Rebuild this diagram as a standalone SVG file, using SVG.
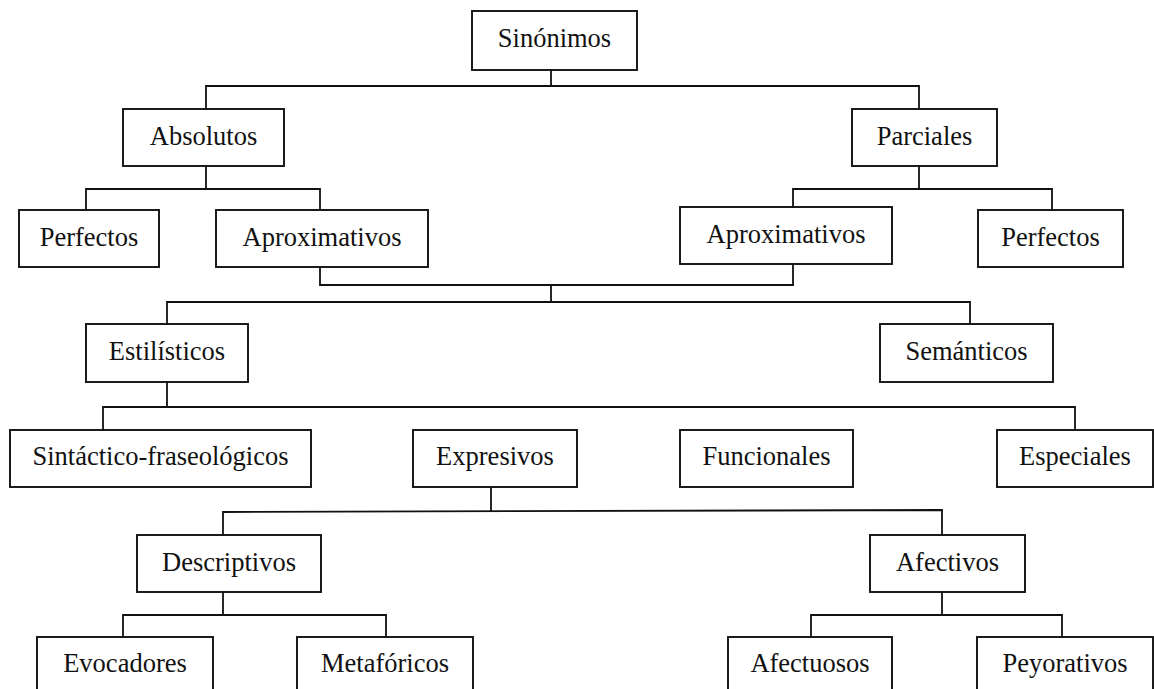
<svg xmlns="http://www.w3.org/2000/svg" width="1154" height="689" viewBox="0 0 1154 689">
<style>
.b{fill:#fff;stroke:#111;stroke-width:1.9}
.t{font-family:"Liberation Serif","Times New Roman",serif;font-size:26.5px;fill:#111;text-anchor:middle}
.c{fill:none;stroke:#111;stroke-width:1.8}
</style>
<rect width="1154" height="689" fill="#fff"/>
<g id="connectors" class="c">
<path d="M551,70V86M206,109V86H919V109"/>
<path d="M206,166V189M86,210V189H320V210"/>
<path d="M919,166V189M793,207V189H1052V210"/>
<path d="M320,267V285H793V264M551,285V302"/>
<path d="M167,324V302H970V324"/>
<path d="M167,382V407M103,430V407H1075V430"/>
<path d="M491,487V511M223,535V512L942,510V535"/>
<path d="M223,592V615M123,637V615H386V637"/>
<path d="M942,592V615M811,637V615H1062V637"/>
</g>
<g id="n-sinonimos"><rect class="b" x="472" y="11" width="165" height="59"/><text class="t" x="554.5" y="47">Sinónimos</text></g>
<g id="n-absolutos"><rect class="b" x="123" y="109" width="161" height="57"/><text class="t" x="203.5" y="144.5">Absolutos</text></g>
<g id="n-parciales"><rect class="b" x="852" y="109" width="145" height="57"/><text class="t" x="924.5" y="144.5">Parciales</text></g>
<g id="n-perfectos-l"><rect class="b" x="19" y="210" width="140" height="57"/><text class="t" x="89" y="245.5">Perfectos</text></g>
<g id="n-aprox-l"><rect class="b" x="216" y="210" width="212" height="57"/><text class="t" x="322" y="245.5">Aproximativos</text></g>
<g id="n-aprox-r"><rect class="b" x="680" y="207" width="212" height="57"/><text class="t" x="786" y="242.5">Aproximativos</text></g>
<g id="n-perfectos-r"><rect class="b" x="978" y="210" width="145" height="57"/><text class="t" x="1050.5" y="245.5">Perfectos</text></g>
<g id="n-estilisticos"><rect class="b" x="86" y="324" width="162" height="58"/><text class="t" x="167" y="360">Estilísticos</text></g>
<g id="n-semanticos"><rect class="b" x="880" y="324" width="173" height="58"/><text class="t" x="966.5" y="360">Semánticos</text></g>
<g id="n-sintactico"><rect class="b" x="10" y="430" width="301" height="57"/><text class="t" x="160.5" y="465">Sintáctico-fraseológicos</text></g>
<g id="n-expresivos"><rect class="b" x="413" y="430" width="164" height="57"/><text class="t" x="495" y="465">Expresivos</text></g>
<g id="n-funcionales"><rect class="b" x="680" y="430" width="173" height="57"/><text class="t" x="766.5" y="465">Funcionales</text></g>
<g id="n-especiales"><rect class="b" x="997" y="430" width="156" height="57"/><text class="t" x="1075" y="465">Especiales</text></g>
<g id="n-descriptivos"><rect class="b" x="137" y="535" width="184" height="57"/><text class="t" x="229" y="570.5">Descriptivos</text></g>
<g id="n-afectivos"><rect class="b" x="870" y="535" width="155" height="57"/><text class="t" x="947.5" y="570.5">Afectivos</text></g>
<g id="n-evocadores"><rect class="b" x="37" y="637" width="176" height="60"/><text class="t" x="125" y="672">Evocadores</text></g>
<g id="n-metaforicos"><rect class="b" x="297" y="637" width="176" height="60"/><text class="t" x="385" y="672">Metafóricos</text></g>
<g id="n-afectuosos"><rect class="b" x="728" y="637" width="164" height="60"/><text class="t" x="810" y="672">Afectuosos</text></g>
<g id="n-peyorativos"><rect class="b" x="977" y="637" width="176" height="60"/><text class="t" x="1065" y="672">Peyorativos</text></g>
</svg>
